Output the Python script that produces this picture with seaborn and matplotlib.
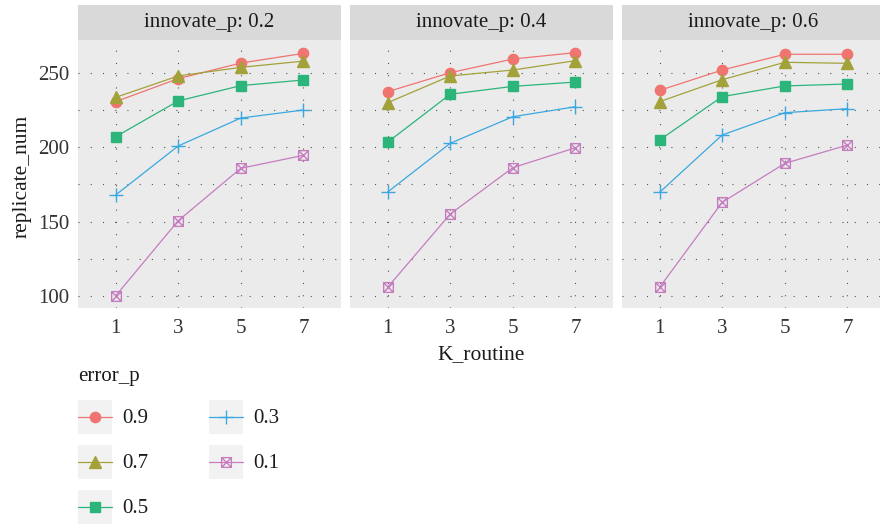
import numpy as np
import pandas as pd
import matplotlib
matplotlib.use("Agg")
import matplotlib.pyplot as plt
import seaborn as sns
from matplotlib.path import Path
from matplotlib.patches import Rectangle
from matplotlib.lines import Line2D
from matplotlib.legend_handler import HandlerLine2D
from matplotlib.ticker import MultipleLocator

# data
k_routine = ["1", "3", "5", "7"]
innovate_levels = ["0.2", "0.4", "0.6"]
error_levels = ["0.9", "0.7", "0.5", "0.3", "0.1"]

inn_02 = {
    "0.9": [230.7, 246.2, 256.7, 263.2],
    "0.7": [233.6, 248.0, 253.8, 258.0],
    "0.5": [207.1, 231.2, 241.5, 245.3],
    "0.3": [167.9, 200.9, 219.7, 225.1],
    "0.1": [100.0, 150.6, 185.9, 194.6],
}
inn_04 = {
    "0.9": [237.4, 250.2, 259.4, 263.7],
    "0.7": [230.0, 248.0, 252.0, 258.3],
    "0.5": [203.4, 235.7, 241.0, 243.9],
    "0.3": [169.9, 202.7, 220.6, 227.3],
    "0.1": [105.8, 155.1, 186.3, 199.7],
}
inn_06 = {
    "0.9": [238.3, 252.0, 262.6, 262.6],
    "0.7": [230.7, 245.5, 257.2, 256.5],
    "0.5": [204.9, 234.1, 241.3, 242.6],
    "0.3": [169.7, 208.3, 223.3, 226.0],
    "0.1": [105.8, 163.0, 189.2, 201.5],
}

rows = []
for inn, table in zip(innovate_levels, [inn_02, inn_04, inn_06]):
    for err in error_levels:
        for k, v in zip(k_routine, table[err]):
            rows.append({"innovate_p": inn, "error_p": err, "K_routine": k, "replicate_num": v})
df = pd.DataFrame(rows)

colors = {"0.9": "#F07470", "0.7": "#A3A23A", "0.5": "#2BB57A", "0.3": "#3AA8E0", "0.1": "#C57DBF"}

# square with a cross inside (ggplot shape 7)
sq_cross = Path(
    [(-0.5, -0.5), (0.5, -0.5), (0.5, 0.5), (-0.5, 0.5), (-0.5, -0.5),
     (-0.5, -0.5), (0.5, 0.5), (-0.5, 0.5), (0.5, -0.5)],
    [Path.MOVETO, Path.LINETO, Path.LINETO, Path.LINETO, Path.LINETO,
     Path.MOVETO, Path.LINETO, Path.MOVETO, Path.LINETO],
)
marker_style = {
    "0.9": dict(marker="o", ms=7.4, mfc=None),
    "0.7": dict(marker="^", ms=8.4, mfc=None),
    "0.5": dict(marker="s", ms=6.8, mfc=None),
    "0.3": dict(marker="+", ms=10.0, mfc=None),
    "0.1": dict(marker=sq_cross, ms=7.0, mfc="none"),
}


def mkw(err):
    st = marker_style[err]
    kw = dict(marker=st["marker"], markersize=st["ms"], markeredgewidth=1.0,
              markeredgecolor=colors[err])
    if st["mfc"] is not None:
        kw["markerfacecolor"] = st["mfc"]
    return kw


FONT = ["Liberation Serif", "DejaVu Serif"]
sns.set_style("white")
plt.rcParams["font.family"] = FONT
TXT = "#333333"
DARK = "#1A1A1A"

W, H = 880, 530
fig = plt.figure(figsize=(W / 100, H / 100), dpi=100)

panel_left = [78, 350, 622]
panel_w, panel_top, panel_bot = 263, 40, 308
strip_h = 35

axes = []
for i, inn in enumerate(innovate_levels):
    ax = fig.add_axes([panel_left[i] / W, 1 - panel_bot / H, panel_w / W, (panel_bot - panel_top) / H])
    ax.set_facecolor("#EBEBEB")
    sub = df[df["innovate_p"] == inn]
    for err in error_levels:
        sns.lineplot(data=sub[sub["error_p"] == err], x="K_routine", y="replicate_num",
                     color=colors[err], linewidth=0.9, ax=ax, **mkw(err))
    ax.set_xlim(-0.6, 3.6)
    ax.set_ylim(91.9, 272.2)
    ax.yaxis.set_major_locator(MultipleLocator(50))
    ax.yaxis.set_minor_locator(MultipleLocator(25))
    ax.grid(which="major", axis="both", color="#555555", linestyle=(0, (1, 10)), linewidth=0.8)
    ax.grid(which="minor", axis="y", color="#555555", linestyle=(0, (1, 10)), linewidth=0.8)
    ax.set_axisbelow(True)
    for s in ax.spines.values():
        s.set_visible(False)
    ax.tick_params(which="major", length=3.2, width=0.8, color="#333333", labelsize=15,
                   labelcolor=TXT, pad=3)
    ax.tick_params(axis="x", pad=5)
    ax.tick_params(which="minor", length=0)
    ax.set_xlabel("")
    ax.set_ylabel("")
    if i > 0:
        ax.tick_params(axis="y", left=False, labelleft=False)
    # facet strip
    sh = strip_h / (panel_bot - panel_top)
    ax.add_patch(Rectangle((0, 1), 1, sh, transform=ax.transAxes, facecolor="#D9D9D9",
                           edgecolor="none", clip_on=False))
    ax.text(0.5, 1 + sh / 2, "innovate_p: " + inn, transform=ax.transAxes, ha="center",
            va="center", fontsize=15, color=DARK)
    axes.append(ax)

fig.text(22 / W, 1 - 176 / H, "replicate_num", rotation=90, ha="center", va="center",
         fontsize=15.5, color=DARK)
fig.text(481 / W, 1 - 355 / H, "K_routine", ha="center", va="center", fontsize=15.5, color=DARK)


class KeyHandler(HandlerLine2D):
    def create_artists(self, legend, orig_handle, xdescent, ydescent, width, height, fontsize, trans):
        bg = Rectangle((-xdescent, -ydescent), width, height, facecolor="#F2F2F2",
                       edgecolor="none", transform=trans)
        arts = super().create_artists(legend, orig_handle, xdescent, ydescent, width, height,
                                      fontsize, trans)
        yc = height / 2 - ydescent
        for a in arts:
            if isinstance(a, Line2D):
                a.set_ydata(np.full(len(a.get_xdata()), yc))
        return [bg] + list(arts)


handles = []
for err in error_levels:
    handles.append(Line2D([], [], color=colors[err], linewidth=0.9, **mkw(err)))

fs = 15
px = fs * 100 / 72
box_pt = 34 * 72 / 100
hh = (box_pt / fs - 0.245) / 0.65
leg = fig.legend(handles, error_levels, title="error_p", ncol=2, loc="upper left",
                 bbox_to_anchor=(78 / W, 1 - 367 / H), frameon=False, fontsize=fs,
                 title_fontsize=fs, handlelength=34 / px, handleheight=hh,
                 labelspacing=11 / px, handletextpad=10 / px, columnspacing=61 / px,
                 borderpad=0, borderaxespad=0, alignment="left",
                 handler_map={Line2D: KeyHandler(numpoints=1, marker_pad=0.1)})
leg._legend_box.sep = 10  # a bit more room under the title
for t in leg.get_texts():
    t.set_color(DARK)
leg.get_title().set_color(DARK)

fig.savefig("out.png", dpi=100)
